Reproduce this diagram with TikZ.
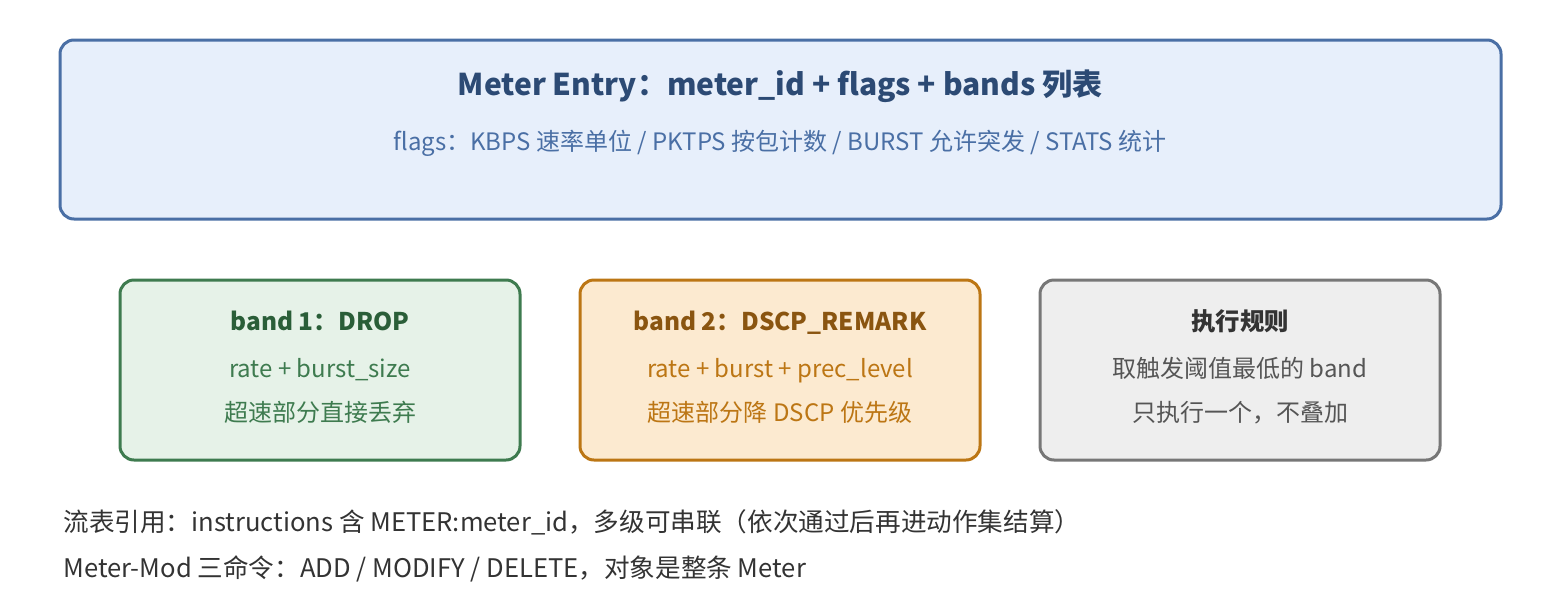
\documentclass[tikz,border=0pt]{standalone}
\usepackage{fontspec}
\setmainfont{Noto Sans CJK SC}
\definecolor{topfill}{HTML}{E7EFFB}
\definecolor{topdraw}{HTML}{4A6FA5}
\definecolor{toptitle}{HTML}{2C4A74}
\definecolor{gfill}{HTML}{E6F2E8}
\definecolor{gdraw}{HTML}{3E7B4F}
\definecolor{gtitle}{HTML}{2A5E38}
\definecolor{ofill}{HTML}{FCEAD0}
\definecolor{odraw}{HTML}{BC7614}
\definecolor{otitle}{HTML}{8A5510}
\definecolor{xfill}{HTML}{EEEEEE}
\definecolor{xdraw}{HTML}{777777}
\definecolor{xtitle}{HTML}{333333}
\definecolor{xtext}{HTML}{555555}
\definecolor{btext}{HTML}{333333}
\tikzset{
  panel/.style={rounded corners=14pt, line width=3pt},
  ttl/.style={font=\fontsize{24.4}{28}\selectfont\bfseries, anchor=base},
  txt/.style={font=\fontsize{24}{28}\selectfont, anchor=base},
}
\begin{document}
\begin{tikzpicture}[x=1pt,y=-1pt]
\useasboundingbox (0,0) rectangle (1560,600);
\draw[panel, fill=topfill, draw=topdraw] (60,40) rectangle (1501,219);
\node[ttl, text=toptitle, font=\fontsize{30}{34}\selectfont\bfseries] (t1) at (780,95) {Meter Entry：meter\_id + flags + bands 列表};
\node[txt, text=topdraw] (t2) at (780,150) {flags：KBPS 速率单位 / PKTPS 按包计数 / BURST 允许突发 / STATS 统计};

\draw[panel, fill=gfill, draw=gdraw] (120,280) rectangle (520,460);
\node[ttl, text=gtitle] (g1) at (320,330) {band 1：DROP};
\node[txt, text=gdraw] (g2) at (320,377) {rate + burst\_size};
\node[txt, text=gdraw] (g3) at (320,421) {超速部分直接丢弃};

\draw[panel, fill=ofill, draw=odraw] (580,280) rectangle (980,460);
\node[ttl, text=otitle] (o1) at (780,330) {band 2：DSCP\_REMARK};
\node[txt, text=odraw] (o2) at (780,377) {rate + burst + prec\_level};
\node[txt, text=odraw] (o3) at (780,421) {超速部分降 DSCP 优先级};

\draw[panel, fill=xfill, draw=xdraw] (1040,280) rectangle (1440,460);
\node[ttl, text=xtitle] (x1) at (1240,330) {执行规则};
\node[txt, text=xtext] (x2) at (1240,377) {取触发阈值最低的 band};
\node[txt, text=xtext] (x3) at (1240,421) {只执行一个，不叠加};

\node[txt, text=btext, anchor=base west, font=\fontsize{25.6}{30}\selectfont] (b1) at (60,531) {流表引用：instructions 含 METER:meter\_id，多级可串联（依次通过后再进动作集结算）};
\node[txt, text=btext, anchor=base west, font=\fontsize{25.6}{30}\selectfont] (b2) at (60,577) {Meter-Mod 三命令：ADD / MODIFY / DELETE，对象是整条 Meter};
\end{tikzpicture}
\end{document}
